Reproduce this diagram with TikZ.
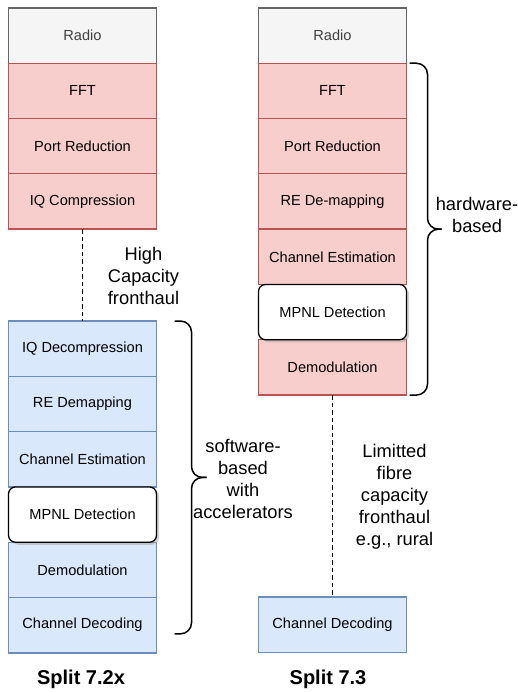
\documentclass[tikz,border=0pt]{standalone}
\usepackage{fontspec}
\setmainfont{Liberation Sans}
\usetikzlibrary{positioning}
\usetikzlibrary{calc}
\usetikzlibrary{shadows}
\definecolor{radiofill}{HTML}{F5F5F5}
\definecolor{radiodraw}{HTML}{666666}
\definecolor{hwfill}{HTML}{F8CECC}
\definecolor{hwdraw}{HTML}{B85450}
\definecolor{swfill}{HTML}{DAE8FC}
\definecolor{swdraw}{HTML}{6C8EBF}
\tikzset{layer box/.style={rectangle,draw,minimum width=148pt,minimum height=55.3pt,inner sep=0pt,outer sep=0pt,line width=1.3pt,font=\fontsize{14.6}{17}\selectfont},
  radio box/.style={layer box,draw=radiodraw,fill=radiofill,text=black!75},
  hw box/.style={layer box,draw=hwdraw,fill=hwfill},
  sw box/.style={layer box,draw=swdraw,fill=swfill},
  mpnl box/.style={layer box,draw=black,fill=white,rounded corners=7pt,drop shadow={shadow xshift=2.5pt,shadow yshift=-2.5pt,fill=black!35}},
  fronthaul/.style={line width=1.5pt,dash pattern=on 4.5pt off 3pt},
  curly/.style={line width=1.5pt,rounded corners=11pt},
  note/.style={align=center,font=\fontsize{18.3}{22}\selectfont},
  split label/.style={font=\fontsize{20}{24}\selectfont\bfseries},}
\begin{document}
\begin{tikzpicture}[x=1pt,y=-1pt]
  \useasboundingbox (0,0) rectangle (517,692);
  % Split 7.2x
  \node[radio box] (l1) at (82.5,35.6) {Radio};
  \node[hw box] (l2) [below=0pt of l1] {FFT};
  \node[hw box] (l3) [below=0pt of l2] {Port Reduction};
  \node[hw box] (l4) [below=0pt of l3] {IQ Compression};
  \node[sw box] (l5) at (82.5,348.7) {IQ Decompression};
  \node[sw box] (l6) [below=0pt of l5] {RE Demapping};
  \node[sw box] (l7) [below=0pt of l6] {Channel Estimation};
  \node[sw box] (l9) [below=55.3pt of l7] {Demodulation};
  \node[sw box] (l10) [below=0pt of l9] {Channel Decoding};
  \node[mpnl box] (l8) [below=0pt of l7] {MPNL Detection};
  % Split 7.3
  \node[radio box] (r1) at (332.5,35.6) {Radio};
  \node[hw box] (r2) [below=0pt of r1] {FFT};
  \node[hw box] (r3) [below=0pt of r2] {Port Reduction};
  \node[hw box] (r4) [below=0pt of r3] {RE De-mapping};
  \node[hw box] (r5) [below=0pt of r4] {Channel Estimation};
  \node[hw box] (r7) [below=55.3pt of r5] {Demodulation};
  \node[mpnl box] (r6) [below=0pt of r5] {MPNL Detection};
  \node[sw box] (r8) at (332.5,624.7) {Channel Decoding};

  \path[fronthaul]
  (l4) edge (l5)
  (r7) edge (r8);

  % braces
  \coordinate (sw top) at ([xshift=18pt]l5.north east);
  \coordinate (sw bot) at ([xshift=18pt,yshift=19pt]l10.south east);
  \coordinate (sw tip) at ($(sw top)!0.5!(sw bot)+(32,0)$);
  \draw[curly] (sw top) -- ++(17,0) |- (sw tip);
  \draw[curly] (sw bot) -- ++(17,0) |- (sw tip);
  \coordinate (hw top) at ([xshift=3pt]r2.north east);
  \coordinate (hw bot) at ([xshift=3pt]r7.south east);
  \coordinate (hw tip) at ($(hw top)!0.5!(hw bot)+(32,0)$);
  \draw[curly] (hw top) -- ++(18,0) |- (hw tip);
  \draw[curly] (hw bot) -- ++(18,0) |- (hw tip);

  \node[note] (hc) at (143.5,276) {High\\Capacity\\fronthaul};
  \node[note] (sw) at (243,479) {software-\\based\\with\\accelerators};
  \node[note] (hw) at (477,215) {hardware-\\based};
  \node[note] (lf) at (394.5,497) {Limitted\\fibre\\capacity\\fronthaul\\e.g., rural};
  \node[split label] (s1) at (81,679) {Split 7.2x};
  \node[split label] (s2) at (328,679) {Split 7.3};
\end{tikzpicture}
\end{document}
